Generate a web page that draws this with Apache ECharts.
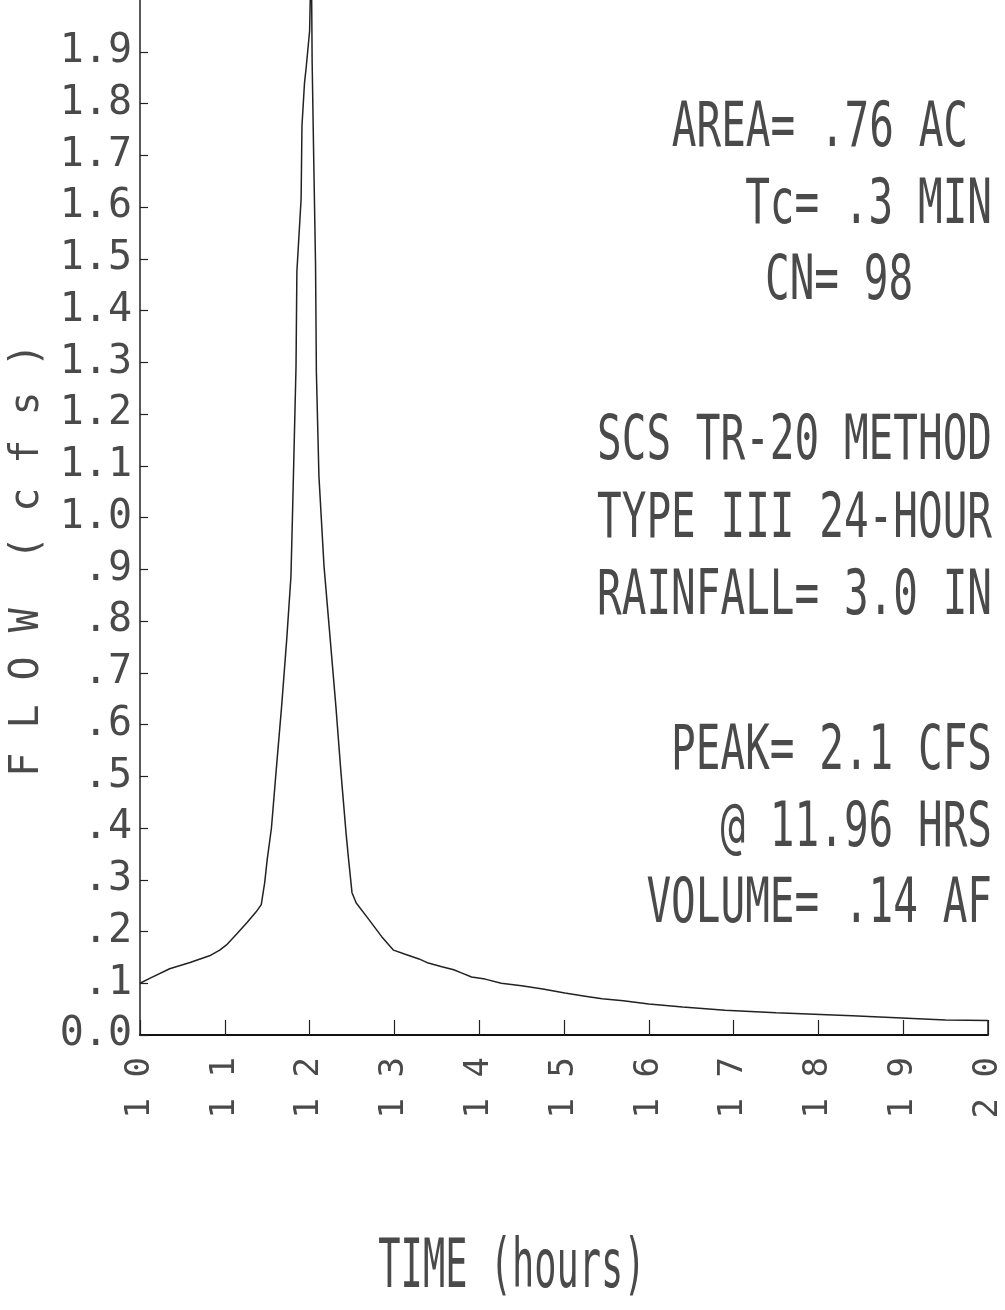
<!DOCTYPE html>
<html>
<head>
<meta charset="utf-8">
<title>hydrograph</title>
<script src="https://cdn.jsdelivr.net/npm/echarts@6/dist/echarts.min.js"></script>
<style>
html, body { margin: 0; padding: 0; background: #fff; }
#hydro { width: 1005px; height: 1310px; }
</style>
</head>
<body>
<div id="hydro"></div>
<script>
// time in hours, flow in cfs
var timeHrs = [10.00, 10.12, 10.35, 10.59, 10.82, 10.94, 11.02, 11.14, 11.26, 11.37,
    11.43, 11.47, 11.50, 11.55, 11.61, 11.67, 11.73, 11.78, 11.80, 11.84,
    11.85, 11.90, 11.91, 11.94, 11.96, 12.00, 12.02, 12.03, 12.05, 12.07,
    12.08, 12.11, 12.17, 12.23, 12.31, 12.37, 12.43, 12.46, 12.50, 12.55,
    12.70, 12.85, 12.99, 13.11, 13.29, 13.40, 13.56, 13.70, 13.79, 13.91,
    14.07, 14.26, 14.50, 14.75, 15.01, 15.25, 15.45, 15.70, 16.00, 16.40,
    16.90, 17.50, 18.40, 19.50, 20.00, 20.00];
var flowCfs = [0.100, 0.110, 0.128, 0.140, 0.153, 0.164, 0.174, 0.195, 0.217, 0.238,
    0.252, 0.294, 0.339, 0.400, 0.519, 0.635, 0.764, 0.886, 1.016, 1.293,
    1.475, 1.616, 1.757, 1.840, 1.870, 1.940, 2.100, 1.880, 1.680, 1.490,
    1.280, 1.080, 0.906, 0.790, 0.635, 0.507, 0.390, 0.339, 0.275, 0.255,
    0.223, 0.190, 0.164, 0.157, 0.147, 0.139, 0.132, 0.126, 0.120, 0.112,
    0.108, 0.100, 0.095, 0.089, 0.081, 0.075, 0.070, 0.066, 0.060, 0.054,
    0.048, 0.043, 0.037, 0.029, 0.028, 0.000];

// tick labels as printed
var yTickLabels = ['0.0', '.1', '.2', '.3', '.4', '.5', '.6', '.7', '.8', '.9',
    '1.0', '1.1', '1.2', '1.3', '1.4', '1.5', '1.6', '1.7', '1.8', '1.9'];
var xTickLabels = ['10', '11', '12', '13', '14', '15', '16', '17', '18', '19', '20'];

// notes on the right side
var infoLines = ['AREA= .76 AC', 'Tc= .3 MIN', 'CN= 98',
    'SCS TR-20 METHOD', 'TYPE III 24-HOUR', 'RAINFALL= 3.0 IN',
    'PEAK= 2.1 CFS', '@ 11.96 HRS', 'VOLUME= .14 AF'];

var yTitle = 'F L O W  ( c f s )';
var xTitle = 'TIME (hours)';

var MONO = 'DejaVu Sans Mono';
var INK = '#222';
var PEN = '#4a4a4a'; // lettering is a thin dotted pen, keep it a bit lighter

var hydro = echarts.init(document.getElementById('hydro'));

var pts = [];
for (var i = 0; i < timeHrs.length; i++) {
    pts.push([timeHrs[i], flowCfs[i]]);
}

// where each note sits: [x, y, align]
var infoPos = [
    [968, 130, 'right'], [992, 207, 'right'], [765, 283, 'left'],
    [992, 443, 'right'], [992, 521, 'right'], [992, 598, 'right'],
    [992, 753, 'right'], [992, 830, 'right'], [992, 906, 'right']
];
var notes = [];
for (var k = 0; k < infoLines.length; k++) {
    notes.push({
        type: 'text',
        x: infoPos[k][0],
        y: infoPos[k][1],
        scaleY: 1.5,
        style: {
            text: infoLines[k],
            font: '41px "' + MONO + '"',
            fill: PEN,
            textAlign: infoPos[k][2],
            textVerticalAlign: 'middle'
        }
    });
}
// axis titles
notes.push({
    type: 'text',
    x: 28, y: 560,
    rotation: Math.PI / 2,
    style: {
        text: yTitle,
        font: '40px "' + MONO + '"',
        fill: PEN,
        textAlign: 'center',
        textVerticalAlign: 'middle'
    }
});
notes.push({
    type: 'text',
    x: 512, y: 1269,
    scaleY: 1.85,
    style: {
        text: xTitle,
        font: '37px "' + MONO + '"',
        fill: PEN,
        textAlign: 'center',
        textVerticalAlign: 'middle'
    }
});

var opt = {
    backgroundColor: '#fff',
    animation: false,
    grid: { left: 140, right: 13, top: 0, bottom: 275 },
    xAxis: {
        type: 'value',
        min: 10,
        max: 20,
        interval: 1,
        axisLine: { lineStyle: { color: '#111', width: 2 } },
        axisTick: { inside: true, length: 15, lineStyle: { color: INK, width: 1.2 } },
        splitLine: { show: false },
        axisLabel: {
            rotate: 90,
            margin: 22,
            color: PEN,
            fontFamily: MONO,
            fontSize: 34,
            formatter: function(val) {
                var s = xTickLabels[Math.round(val - 10)] || '';
                return s.split('').join(' ');
            }
        }
    },
    yAxis: {
        type: 'value',
        min: 0,
        max: 2.0,
        interval: 0.1,
        axisLine: { show: true, lineStyle: { color: INK, width: 1.5 } },
        axisTick: { show: true, inside: true, length: 8, lineStyle: { color: INK, width: 1.2 } },
        splitLine: { show: false },
        axisLabel: {
            margin: 8,
            color: PEN,
            fontFamily: MONO,
            fontSize: 40,
            showMaxLabel: false,
            formatter: function(val) {
                return yTickLabels[Math.round(val * 10)] || '';
            }
        }
    },
    graphic: notes,
    series: [{
        type: 'line',
        data: pts,
        showSymbol: false,
        clip: true,
        lineStyle: { color: INK, width: 1.5 }
    }]
};

hydro.setOption(opt);
</script>
</body>
</html>
